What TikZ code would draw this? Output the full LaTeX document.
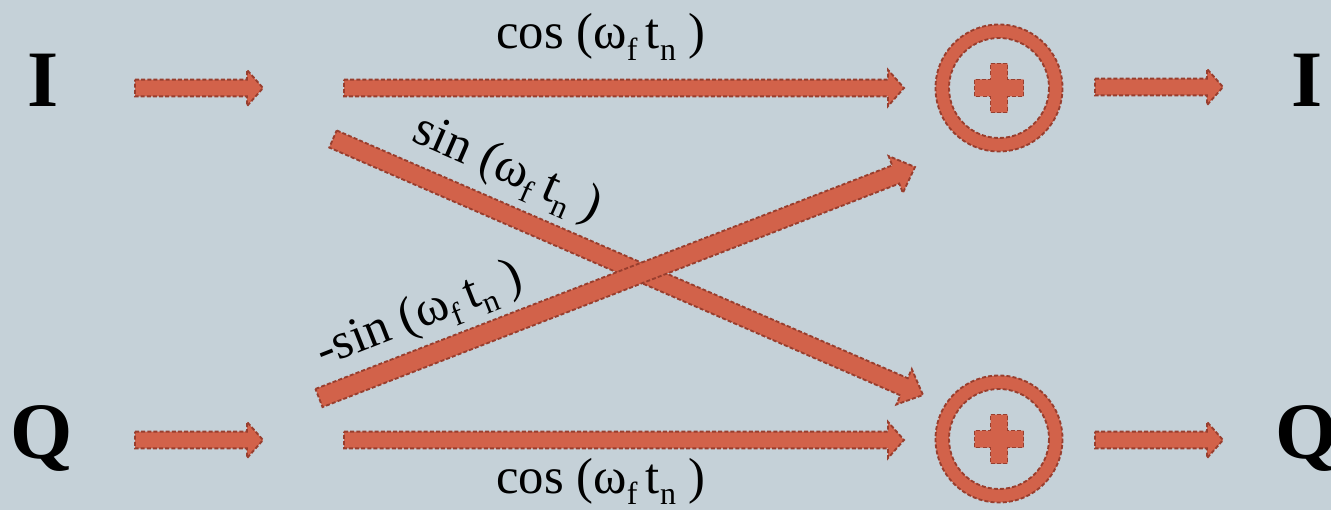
\documentclass[tikz,border=0pt]{standalone}
\usepackage{fontspec}
\setmainfont{Liberation Serif}
\usetikzlibrary{calc}
\definecolor{bg}{RGB}{197,209,216}
\definecolor{fillred}{RGB}{210,98,74}
\definecolor{edgered}{RGB}{152,62,46}
\tikzset{
  blockarr/.style={fill=fillred, draw=edgered, line width=1.4pt, dash pattern=on 3pt off 1.6pt, line join=miter},
  lbl/.style={font=\fontsize{38}{38}\selectfont, inner sep=0pt},
  big/.style={font=\fontsize{60}{60}\selectfont\bfseries, inner sep=0pt},
  sumnode/.style={circle, minimum size=96pt, inner sep=0pt},
}
\newcommand\mysub[1]{\raisebox{-0.22em}{\fontsize{24}{24}\selectfont #1}}
\newcommand\mylabel{cos (ω\mysub{f}\,t\mysub{n} )}
% #1 from, #2 to, #3 shaft half width, #4 head half width, #5 head length
\newcommand\blockarrow[5]{%
  \coordinate (hb) at ($(#2)!#5!(#1)$);
  \path[blockarr] ($(#1)!#3!90:(#2)$) -- ($(hb)!#3!90:(#2)$) -- ($(hb)!#4!90:(#2)$) -- (#2)
    -- ($(hb)!#4!-90:(#2)$) -- ($(hb)!#3!-90:(#2)$) -- ($(#1)!#3!-90:(#2)$) -- cycle;}
\newcommand\sumsymbol[1]{%
  \path[blockarr, even odd rule] (#1) circle[radius=63.5] (#1) circle[radius=50];
  \path[blockarr, shift={(#1)}] (-8.5,-24.5) -- (8.5,-24.5) -- (8.5,-8.5) -- (24.5,-8.5) -- (24.5,8.5)
    -- (8.5,8.5) -- (8.5,24.5) -- (-8.5,24.5) -- (-8.5,8.5) -- (-24.5,8.5) -- (-24.5,-8.5) -- (-8.5,-8.5) -- cycle;}
\begin{document}
\begin{tikzpicture}[x=0.75pt,y=-0.75pt]
\fill[bg] (0,0) rectangle (1331,510);
\useasboundingbox (0,0) rectangle (1331,510);

% letters
\node[big, anchor=base] (Iin) at (43,106) {I};
\node[big, anchor=base] (Qin) at (42,458) {Q};
\node[big, anchor=base] (Iout) at (1307,106) {I};
\node[big, anchor=base] (Qout) at (1307,458) {Q};

% adders
\node[sumnode] (sumI) at (999,88) {};
\node[sumnode] (sumQ) at (999,439) {};
\sumsymbol{sumI}
\sumsymbol{sumQ}

% arrow end points
\coordinate (a1s) at (135,88);  \coordinate (a1e) at (263,88);
\coordinate (c1s) at (344,88);  \coordinate (c1e) at (904,88);
\coordinate (o1s) at (1095,87); \coordinate (o1e) at (1223,87);
\coordinate (a2s) at (135,440); \coordinate (a2e) at (263,440);
\coordinate (c2s) at (344,440); \coordinate (c2e) at (904,440);
\coordinate (o2s) at (1095,440);\coordinate (o2e) at (1223,440);
\coordinate (ss) at (333,139);  \coordinate (se) at (923,395);
\coordinate (ms) at (319,398);  \coordinate (me) at (915,167);

\blockarrow{a1s}{a1e}{6.3pt}{13.6pt}{12pt}
\blockarrow{c1s}{c1e}{6.3pt}{13.6pt}{12pt}
\blockarrow{o1s}{o1e}{6.3pt}{13.6pt}{12pt}
\blockarrow{a2s}{a2e}{6.3pt}{13.6pt}{12pt}
\blockarrow{c2s}{c2e}{6.3pt}{13.6pt}{12pt}
\blockarrow{o2s}{o2e}{6.3pt}{13.6pt}{12pt}
\blockarrow{ss}{se}{7pt}{14.5pt}{15.5pt}
\blockarrow{ms}{me}{7.3pt}{14.8pt}{15.5pt}

% labels
\node[lbl, anchor=base] (lc1) at (601,49) {\mylabel};
\node[lbl, anchor=base] (lc2) at (601,493) {\mylabel};
\node[lbl, rotate=-23.5] (ls) at (507,170) {sin (ω\mysub{f}\,t\mysub{n} )};
\node[lbl, rotate=21.5] (lm) at (420,316) {-sin (ω\mysub{f}\,t\mysub{n} )};
\end{tikzpicture}
\end{document}
